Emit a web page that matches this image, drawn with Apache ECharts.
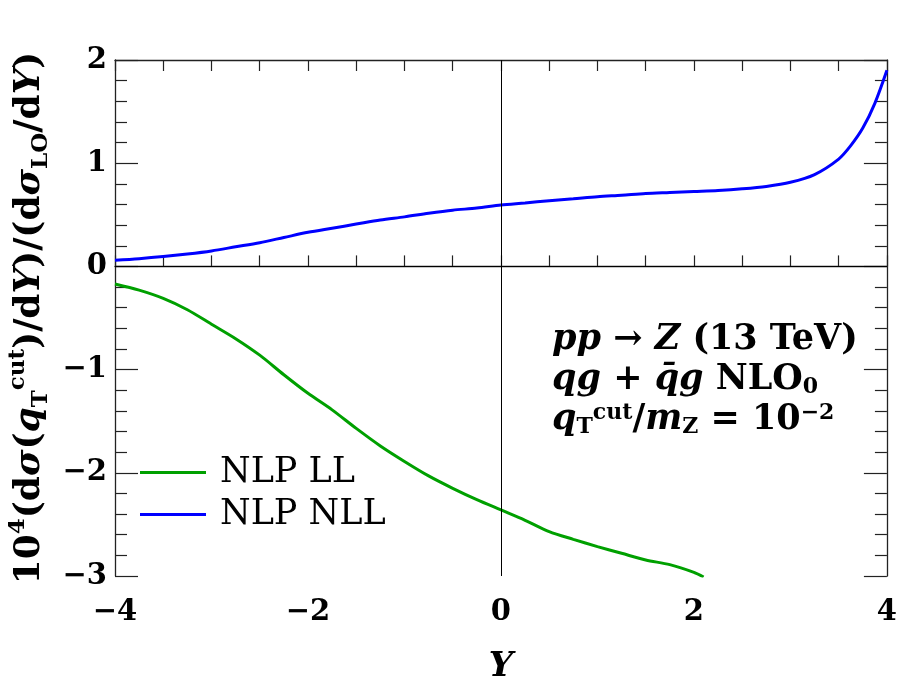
<!DOCTYPE html>
<html>
<head>
<meta charset="utf-8">
<script src="https://cdn.jsdelivr.net/npm/echarts@6/dist/echarts.min.js"></script>
<style>
  html, body { margin: 0; padding: 0; background: #fff; }
  #chart { width: 900px; height: 698px; }
</style>
</head>
<body>
<div id="chart"></div>
<script>
// rapidity values and ratio curves
const llY = [-4, -3.75, -3.5, -3.25, -3, -2.75, -2.5, -2.25, -2, -1.75, -1.5, -1.25, -1, -0.75, -0.5, -0.25, 0, 0.25, 0.5, 0.75, 1, 1.25, 1.5, 1.75, 2, 2.1]
const llVals = [-0.17, -0.23, -0.31, -0.42, -0.56, -0.70, -0.86, -1.05, -1.23, -1.39, -1.57, -1.74, -1.89, -2.03, -2.15, -2.26, -2.36, -2.46, -2.57, -2.645, -2.715, -2.78, -2.845, -2.89, -2.965, -3.01]

const nllY = [-4, -3.75, -3.5, -3.25, -3, -2.75, -2.5, -2.25, -2, -1.75, -1.5, -1.25, -1, -0.75, -0.5, -0.25, 0, 0.25, 0.5, 0.75, 1, 1.25, 1.5, 1.75, 2, 2.25, 2.5, 2.75, 3, 3.25, 3.5, 3.625, 3.75, 3.875, 4]
const nllVals = [0.06, 0.075, 0.095, 0.12, 0.15, 0.19, 0.23, 0.28, 0.33, 0.37, 0.41, 0.45, 0.48, 0.515, 0.545, 0.565, 0.595, 0.615, 0.637, 0.656, 0.676, 0.69, 0.706, 0.716, 0.726, 0.736, 0.752, 0.775, 0.815, 0.89, 1.04, 1.17, 1.34, 1.58, 1.9]

const xLabels = [-4, -2, 0, 2, 4]
const yLabels = [-3, -2, -1, 0, 1, 2]

const FONT = 'DejaVu Serif'
const minus = v => (v < 0 ? '\u2212' + Math.abs(v) : String(v))

const chart = echarts.init(document.getElementById('chart'))

const tickStyle = { color: '#222', width: 1.2 }

// rich styles shared by the math texts
const mathRich = (size, lh) => ({
  i: { fontFamily: FONT, fontWeight: 'bold', fontStyle: 'italic', fontSize: size, lineHeight: lh },
  sup: { fontFamily: FONT, fontWeight: 'bold', fontSize: Math.round(size * 0.63), lineHeight: lh, verticalAlign: 'top', padding: [2, 0, 0, 0] },
  sub: { fontFamily: FONT, fontWeight: 'bold', fontSize: Math.round(size * 0.63), lineHeight: lh, verticalAlign: 'bottom', padding: [0, 0, 2, 0] }
})

const option = {
  animation: false,
  grid: { left: 115, right: 11, top: 60, bottom: 122 },
  xAxis: [
    {
      type: 'value', min: -4, max: 4, interval: 0.5,
      axisLine: { lineStyle: { color: '#222', width: 1.3 } },
      axisTick: { inside: true, length: 11, lineStyle: tickStyle },
      splitLine: { show: false },
      axisLabel: {
        margin: 22, color: '#000', fontFamily: FONT, fontWeight: 'bold', fontSize: 29,
        formatter: v => (xLabels.includes(v) ? minus(v) : '')
      },
      name: 'Y', nameLocation: 'middle', nameGap: 74,
      nameTextStyle: { fontFamily: FONT, fontWeight: 'bold', fontStyle: 'italic', fontSize: 34, color: '#000' }
    },
    {
      type: 'value', min: -4, max: 4, interval: 0.5, position: 'top',
      axisLine: { show: true, onZero: false, lineStyle: { color: '#222', width: 1.3 } },
      axisTick: { inside: true, length: 11, lineStyle: tickStyle },
      splitLine: { show: false },
      axisLabel: { show: false }
    }
  ],
  yAxis: [
    {
      type: 'value', min: -3, max: 2, interval: 1,
      axisLine: { show: true, onZero: false, lineStyle: { color: '#222', width: 1.3 } },
      axisTick: { inside: true, length: 23, lineStyle: tickStyle },
      minorTick: { show: true, splitNumber: 5, length: 12, lineStyle: tickStyle },
      splitLine: { show: false },
      axisLabel: {
        margin: 8, color: '#000', fontFamily: FONT, fontWeight: 'bold', fontSize: 29,
        formatter: v => (yLabels.includes(v) ? minus(v) : '')
      }
    },
    {
      type: 'value', min: -3, max: 2, interval: 1, position: 'right',
      axisLine: { show: true, onZero: false, lineStyle: { color: '#222', width: 1.3 } },
      axisTick: { inside: true, length: 23, lineStyle: tickStyle },
      minorTick: { show: true, splitNumber: 5, length: 12, lineStyle: tickStyle },
      splitLine: { show: false },
      axisLabel: { show: false }
    }
  ],
  legend: {
    orient: 'vertical', left: 140, top: 455, padding: 0,
    itemWidth: 66, itemHeight: 3, itemGap: 7, icon: 'rect',
    data: ['NLP LL', 'NLP NLL'],
    textStyle: { fontFamily: FONT, fontSize: 35, lineHeight: 34, color: '#000', padding: [0, 0, 0, 9] }
  },
  series: [
    {
      name: 'NLP LL', type: 'line', showSymbol: false, smooth: 0.3,
      data: llY.map((x, i) => [x, llVals[i]]),
      lineStyle: { color: '#00a000', width: 3 }, itemStyle: { color: '#00a000' },
      markLine: {
        silent: true, symbol: 'none', label: { show: false },
        lineStyle: { color: '#000', width: 1, type: 'solid' },
        data: [{ xAxis: 0 }, { yAxis: 0 }]
      },
      z: 3
    },
    {
      name: 'NLP NLL', type: 'line', showSymbol: false, smooth: 0.3,
      data: nllY.map((x, i) => [x, nllVals[i]]),
      lineStyle: { color: '#0000ff', width: 3 }, itemStyle: { color: '#0000ff' },
      z: 3
    }
  ],
  graphic: [
    {
      type: 'text', x: 30, y: 318, rotation: Math.PI / 2,
      style: {
        text: '10{sup|4}(d{i|σ}({i|q}{sub|T}{sup|cut})/d{i|Y})/(d{i|σ}{sub|LO}/d{i|Y})',
        align: 'center', verticalAlign: 'middle',
        font: 'bold 36px "DejaVu Serif"', fill: '#000',
        rich: mathRich(36, 50)
      }
    },
    {
      type: 'text', left: 552, top: 320,
      style: {
        text: '{i|pp} \u2192 {i|Z} (13 TeV)\n{i|qg} + {i|q\u0304g} NLO{sub|0}\n{i|q}{sub|T}{sup|cut}/{i|m}{sub|Z} = 10{sup|\u22122}',
        font: 'bold 35px "DejaVu Serif"', fill: '#000', lineHeight: 40,
        rich: mathRich(35, 40)
      }
    }
  ]
}

chart.setOption(option)
</script>
</body>
</html>
